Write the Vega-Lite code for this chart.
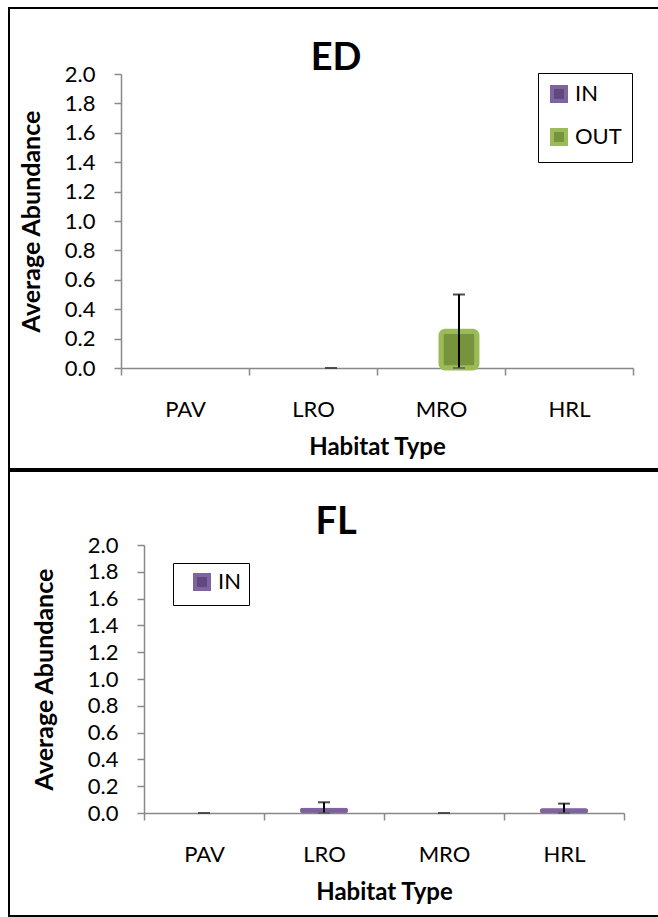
{
  "$schema": "https://vega.github.io/schema/vega-lite/v6.json",
  "padding": {"left": 8, "top": 7, "right": 0, "bottom": 0},
  "spacing": 0,
  "background": "white",
  "resolve": {
    "scale": {"x": "independent", "y": "independent", "xOffset": "independent", "fill": "independent", "stroke": "independent"},
    "legend": {"fill": "independent", "stroke": "independent"},
    "axis": {"x": "independent", "y": "independent"}
  },
  "config": {
    "view": {"stroke": "black", "strokeWidth": 2},
    "font": "Lato",
    "axis": {
      "domainColor": "#898989", "tickColor": "#898989", "domainWidth": 1.5, "tickWidth": 1.5, "tickSize": 7,
      "labelColor": "black", "labelFont": "Lato", "labelFontSize": 22,
      "titleFont": "Lato", "titleFontWeight": "bold", "titleFontSize": 24, "titleColor": "black", "grid": false
    },
    "legend": {
      "orient": "none", "strokeColor": "black", "symbolType": "square", "symbolSize": 196, "symbolStrokeWidth": 4,
      "labelFont": "Lato", "labelFontSize": 22, "labelColor": "black", "labelOffset": 5
    },
    "title": {"font": "Lato", "fontWeight": "bold", "fontSize": 38, "color": "black", "frame": "group", "baseline": "alphabetic"}
  },
  "vconcat": [
    {
      "width": 660, "height": 461,
      "title": {"text": "ED", "offset": -70, "dx": -3},
      "data": {"values": [
        {"habitat": "PAV", "series": "IN", "mean": 0},
        {"habitat": "PAV", "series": "OUT", "mean": 0},
        {"habitat": "LRO", "series": "IN", "mean": 0},
        {"habitat": "LRO", "series": "OUT", "mean": 0, "lo": 0, "hi": 0},
        {"habitat": "MRO", "series": "IN", "mean": 0},
        {"habitat": "MRO", "series": "OUT", "mean": 0.25, "lo": 0, "hi": 0.5},
        {"habitat": "HRL", "series": "IN", "mean": 0},
        {"habitat": "HRL", "series": "OUT", "mean": 0}
      ]},
      "encoding": {
        "x": {"field": "habitat", "type": "nominal", "sort": ["PAV", "LRO", "MRO", "HRL"],
          "scale": {"domain": ["PAV", "LRO", "MRO", "HRL"], "range": [112, 624], "paddingInner": 0, "paddingOuter": 0},
          "axis": {"title": "Habitat Type", "offset": -101, "labelAngle": 0, "tickBand": "extent", "labelPadding": 24, "titlePadding": 15}},
        "xOffset": {"field": "series", "type": "nominal", "scale": {"domain": ["IN", "OUT"], "paddingInner": 0, "paddingOuter": 0.78}}
      },
      "layer": [
        {
          "transform": [{"filter": "datum.mean > 0"}],
          "mark": {"type": "bar", "strokeWidth": 5, "cornerRadius": 4},
          "encoding": {
            "y": {"field": "mean", "type": "quantitative",
              "scale": {"domain": [0, 2], "range": [360, 66], "nice": false},
              "axis": {"title": "Average Abundance", "titleFontSize": 25, "offset": -112, "values": [0, 0.2, 0.4, 0.6, 0.8, 1.0, 1.2, 1.4, 1.6, 1.8, 2.0], "format": ".1f", "labelPadding": 19, "titlePadding": 20}},
            "fill": {"field": "series", "type": "nominal", "scale": {"domain": ["IN", "OUT"], "range": ["#604A7B", "#77933C"]},
              "legend": {"title": null, "legendX": 529, "legendY": 65, "padding": 10, "rowPadding": 13,
                "encoding": {"legend": {"update": {"strokeWidth": {"value": 2}}}}}},
            "stroke": {"field": "series", "type": "nominal", "scale": {"domain": ["IN", "OUT"], "range": ["#8064A2", "#9BBB59"]},
              "legend": {"title": null, "legendX": 529, "legendY": 65, "padding": 10, "rowPadding": 13,
                "encoding": {"legend": {"update": {"strokeWidth": {"value": 2}}}}}}
          }
        },
        {
          "transform": [{"filter": "isValid(datum.hi)"}],
          "mark": {"type": "rule", "color": "black", "strokeWidth": 2},
          "encoding": {"y": {"field": "lo", "type": "quantitative"}, "y2": {"field": "hi"}}
        },
        {
          "transform": [{"filter": "isValid(datum.hi)"}],
          "mark": {"type": "tick", "color": "black", "thickness": 2, "size": 12},
          "encoding": {"y": {"field": "hi", "type": "quantitative"}}
        },
        {
          "transform": [{"filter": "isValid(datum.hi)"}],
          "mark": {"type": "tick", "color": "#555555", "thickness": 2, "size": 12},
          "encoding": {"y": {"field": "lo", "type": "quantitative"}}
        }
      ]
    },
    {
      "width": 660, "height": 445,
      "title": {"text": "FL", "offset": -71, "dx": -3},
      "data": {"values": [
        {"habitat": "PAV", "series": "IN", "mean": 0, "lo": 0, "hi": 0},
        {"habitat": "LRO", "series": "IN", "mean": 0.04, "lo": 0, "hi": 0.08},
        {"habitat": "MRO", "series": "IN", "mean": 0, "lo": 0, "hi": 0},
        {"habitat": "HRL", "series": "IN", "mean": 0.035, "lo": 0, "hi": 0.07}
      ]},
      "encoding": {
        "x": {"field": "habitat", "type": "nominal", "sort": ["PAV", "LRO", "MRO", "HRL"],
          "scale": {"domain": ["PAV", "LRO", "MRO", "HRL"], "range": [135, 615], "paddingInner": 0, "paddingOuter": 0},
          "axis": {"title": "Habitat Type", "offset": -103, "labelAngle": 0, "tickBand": "extent", "labelPadding": 24, "titlePadding": 15}}
      },
      "layer": [
        {
          "transform": [{"filter": "datum.mean > 0"}],
          "mark": {"type": "bar", "strokeWidth": 5, "cornerRadius": 4, "width": {"band": 0.4}},
          "encoding": {
            "y": {"field": "mean", "type": "quantitative",
              "scale": {"domain": [0, 2], "range": [342, 74], "nice": false},
              "axis": {"title": "Average Abundance", "titleFontSize": 25, "offset": -135, "values": [0, 0.2, 0.4, 0.6, 0.8, 1.0, 1.2, 1.4, 1.6, 1.8, 2.0], "format": ".1f", "labelPadding": 19, "titlePadding": 30}},
            "fill": {"field": "series", "type": "nominal", "scale": {"domain": ["IN"], "range": ["#604A7B"]},
              "legend": {"title": null, "legendX": 164, "legendY": 92, "padding": 8, "symbolOffset": 10,
                "encoding": {"legend": {"update": {"strokeWidth": {"value": 2}}}}}},
            "stroke": {"field": "series", "type": "nominal", "scale": {"domain": ["IN"], "range": ["#8064A2"]},
              "legend": {"title": null, "legendX": 164, "legendY": 92, "padding": 8, "symbolOffset": 10,
                "encoding": {"legend": {"update": {"strokeWidth": {"value": 2}}}}}}
          }
        },
        {
          "mark": {"type": "rule", "color": "black", "strokeWidth": 2},
          "encoding": {"y": {"field": "lo", "type": "quantitative"}, "y2": {"field": "hi"}}
        },
        {
          "mark": {"type": "tick", "color": "black", "thickness": 2, "size": 12},
          "encoding": {"y": {"field": "hi", "type": "quantitative"}}
        },
        {
          "mark": {"type": "tick", "color": "#555555", "thickness": 2, "size": 12},
          "encoding": {"y": {"field": "lo", "type": "quantitative"}}
        }
      ]
    }
  ]
}
